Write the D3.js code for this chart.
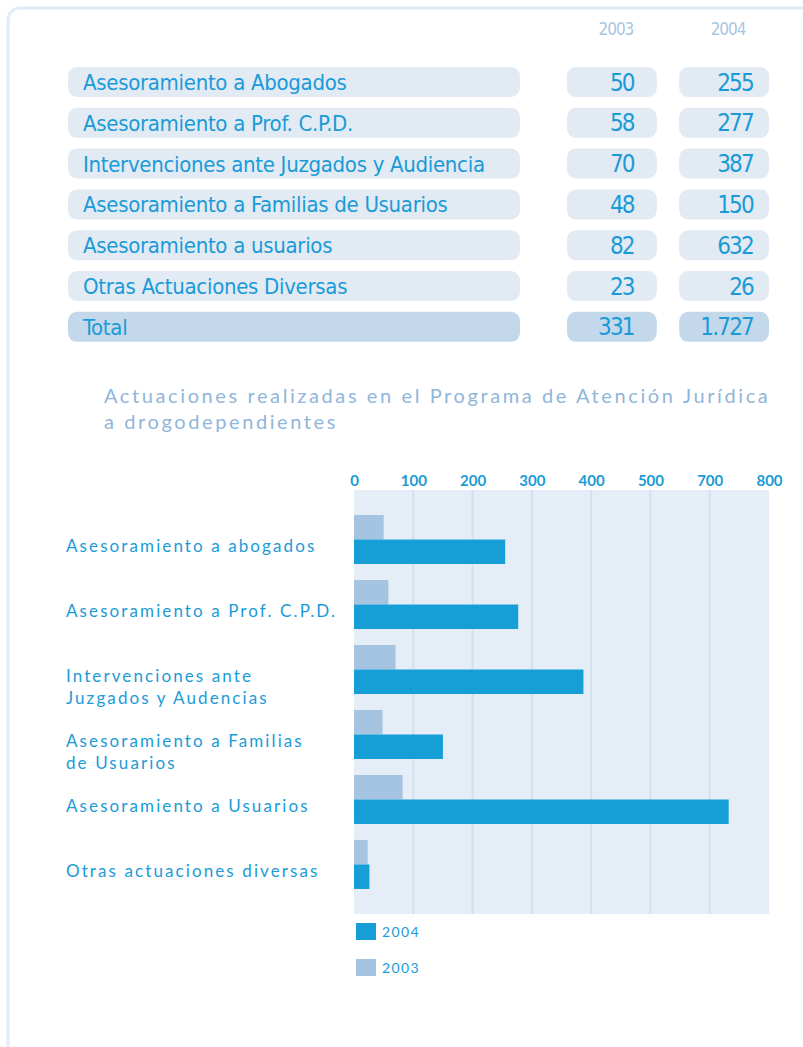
<!DOCTYPE html>
<html>
<head>
<meta charset="utf-8">
<script src="https://cdn.jsdelivr.net/npm/d3@7"></script>
<style>
  html, body { margin: 0; padding: 0; background: #ffffff; }
  svg { display: block; }
</style>
</head>
<body>
<script>
// ---------- DATA ----------
const years = ["2003", "2004"];
const tableCategories = [
  "Asesoramiento a Abogados",
  "Asesoramiento a Prof. C.P.D.",
  "Intervenciones ante Juzgados y Audiencia",
  "Asesoramiento a Familias de Usuarios",
  "Asesoramiento a usuarios",
  "Otras Actuaciones Diversas"
];
const totalLabel = "Total";
const values2003 = [50, 58, 70, 48, 82, 23];
const values2004 = [255, 277, 387, 150, 632, 26];

const chartTitle = [
  "Actuaciones realizadas en el Programa de Atención Jurídica",
  "a drogodependientes"
];
const chartCategories = [
  ["Asesoramiento a abogados"],
  ["Asesoramiento a Prof. C.P.D."],
  ["Intervenciones ante", "Juzgados y Audencias"],
  ["Asesoramiento a Familias", "de Usuarios"],
  ["Asesoramiento a Usuarios"],
  ["Otras actuaciones diversas"]
];
const tickValues = [0, 100, 200, 300, 400, 500, 600, 700];
const tickLabels = ["0", "100", "200", "300", "400", "500", "700", "800"];
const legendOrder = ["2004", "2003"];

// ---------- STYLE ----------
const W = 803, H = 1047;
const C = {
  text: "#1a9bd7",
  header: "#a9c6e1",
  title: "#8fb6da",
  rowBg: "#e2eaf4",
  totalBg: "#c4d8eb",
  panel: "#e5edf6",
  grid: "#d3e1ef",
  border: "#e2ecf6",
  b2003: "#a4c4e2",
  b2004: "#169fd6"
};
const narrow = "'DejaVu Sans Condensed', 'Liberation Sans Narrow', 'Liberation Sans', sans-serif";
const humanist = "Lato, 'Open Sans', sans-serif";

const svg = d3.select("body").append("svg").attr("width", W).attr("height", H);

// outer frame
svg.append("rect")
  .attr("x", 8).attr("y", 8).attr("width", 830).attr("height", 1080)
  .attr("rx", 12)
  .attr("fill", "none").attr("stroke", C.border).attr("stroke-width", 3);

// ---------- TABLE ----------
const locale = d3.formatLocale({ decimal: ",", thousands: ".", grouping: [3], currency: ["", "€"] });
const fmt = locale.format(",d");

const rows = tableCategories.map((c, i) => ({ label: c, v: [values2003[i], values2004[i]], total: false }));
rows.push({ label: totalLabel, v: [d3.sum(values2003), d3.sum(values2004)], total: true });

const rowStep = 40.8, rowH = 30;
const rowY = d3.scaleBand().domain(d3.range(rows.length))
  .range([67, 67 + rowStep * (rows.length - 1) + rowH])
  .paddingInner((rowStep - rowH) / rowStep).paddingOuter(0);
const colX = d3.scaleBand().domain(years).range([567, 769]).paddingInner(0.2);
const numInset = [23, 16];

const tbl = svg.append("g");
// headers
tbl.selectAll("text.hdr").data(years).join("text")
  .attr("class", "hdr")
  .attr("x", d => colX(d) + colX.bandwidth() / 2 + 4)
  .attr("y", 35)
  .attr("text-anchor", "middle")
  .attr("font-family", narrow).attr("font-size", 17).attr("letter-spacing", -1)
  .attr("fill", C.header)
  .text(d => d);

const rg = tbl.selectAll("g.row").data(rows).join("g").attr("class", "row")
  .attr("transform", (d, i) => `translate(0,${rowY(i)})`);

rg.append("rect")
  .attr("x", 68).attr("width", 520 - 68).attr("height", rowY.bandwidth())
  .attr("rx", 9)
  .attr("fill", d => d.total ? C.totalBg : C.rowBg);
rg.append("text")
  .attr("x", 83).attr("y", rowY.bandwidth() / 2 + 8)
  .attr("font-family", narrow).attr("font-size", 22).attr("letter-spacing", -0.3)
  .attr("fill", C.text)
  .text(d => d.label);

years.forEach((yr, j) => {
  rg.append("rect")
    .attr("x", colX(yr)).attr("width", colX.bandwidth()).attr("height", rowY.bandwidth())
    .attr("rx", 9)
    .attr("fill", d => d.total ? C.totalBg : C.rowBg);
  rg.append("text")
    .attr("x", colX(yr) + colX.bandwidth() - numInset[j])
    .attr("y", rowY.bandwidth() / 2 + 8.5)
    .attr("text-anchor", "end")
    .attr("font-family", narrow).attr("font-size", 24).attr("letter-spacing", -1.8)
    .attr("fill", C.text)
    .text(d => fmt(d.v[j]));
});

// ---------- CHART TITLE ----------
svg.append("text")
  .attr("font-family", humanist).attr("font-size", 20).attr("letter-spacing", 2.6)
  .attr("fill", C.title)
  .selectAll("tspan").data(chartTitle).join("tspan")
  .attr("x", 104).attr("y", (d, i) => 403 + i * 26)
  .text(d => d);

// ---------- BAR CHART ----------
const x = d3.scaleLinear().domain([0, 700]).range([354, 769]);
const y = d3.scaleBand().domain(d3.range(chartCategories.length)).range([490, 914])
  .paddingInner(0.246).paddingOuter(0.385);
const ySub = d3.scaleBand().domain(years).range([0, y.bandwidth()]);

// panel
svg.append("rect")
  .attr("x", x(0)).attr("y", 490).attr("width", x(700) - x(0)).attr("height", 914 - 490)
  .attr("fill", C.panel);

// grid
svg.append("g").selectAll("line").data(tickValues.filter(t => t > 0 && t < 700)).join("line")
  .attr("x1", d => x(d)).attr("x2", d => x(d))
  .attr("y1", 490).attr("y2", 914)
  .attr("stroke", C.grid).attr("stroke-width", 2);

// axis
const axis = d3.axisTop(x).tickValues(tickValues)
  .tickFormat((d, i) => tickLabels[i]).tickSize(0).tickPadding(0);
const ag = svg.append("g").attr("transform", "translate(0,486)").call(axis);
ag.select(".domain").remove();
ag.selectAll("text")
  .attr("font-family", humanist).attr("font-size", 15).attr("font-weight", 700)
  .attr("fill", C.text).attr("dy", 0);

// bars
const seriesData = chartCategories.map((c, i) => [
  { yr: "2003", v: values2003[i] },
  { yr: "2004", v: values2004[i] }
]);
const bg = svg.append("g").selectAll("g").data(seriesData).join("g")
  .attr("transform", (d, i) => `translate(0,${y(i)})`);
bg.selectAll("rect").data(d => d).join("rect")
  .attr("x", x(0))
  .attr("y", d => ySub(d.yr))
  .attr("width", d => x(d.v) - x(0))
  .attr("height", ySub.bandwidth())
  .attr("fill", d => d.yr === "2004" ? C.b2004 : C.b2003);

// category labels
svg.append("g").selectAll("text").data(chartCategories).join("text")
  .attr("font-family", humanist).attr("font-size", 17).attr("letter-spacing", 2.1)
  .attr("fill", C.text)
  .each(function (lines, i) {
    const base = y(i) + ySub("2004") + ySub.bandwidth() / 2;
    d3.select(this).selectAll("tspan").data(lines).join("tspan")
      .attr("x", 66).attr("y", (d, k) => base + k * 22)
      .text(d => d);
  });

// legend
const lg = svg.append("g").selectAll("g").data(legendOrder).join("g")
  .attr("transform", (d, i) => `translate(356,${923 + i * 36})`);
lg.append("rect").attr("width", 20).attr("height", 17)
  .attr("fill", d => d === "2004" ? C.b2004 : C.b2003);
lg.append("text").attr("x", 26).attr("y", 14)
  .attr("font-family", humanist).attr("font-size", 14).attr("letter-spacing", 1.4)
  .attr("fill", C.text)
  .text(d => d);
</script>
</body>
</html>
